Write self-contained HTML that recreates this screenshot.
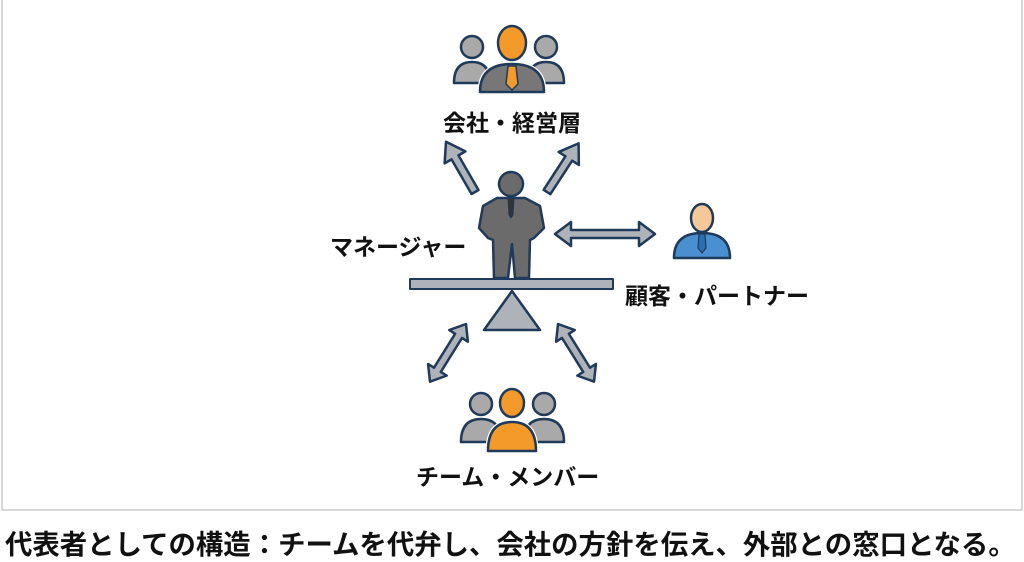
<!DOCTYPE html>
<html><head><meta charset="utf-8"><style>
html,body{margin:0;padding:0;background:#fff;}
body{width:1024px;height:559px;overflow:hidden;position:relative;font-family:"Liberation Sans","Noto Sans CJK JP",sans-serif;}
.t{position:absolute;font-weight:bold;color:#111;white-space:nowrap;}
</style></head><body>
<svg width="1024" height="559" style="position:absolute;left:0;top:0">
<rect x="2" y="-2" width="1020" height="512" fill="#fff" stroke="#d8d8d8" stroke-width="2"/>
<g stroke="#1f3a5a" stroke-width="2.5" stroke-linejoin="round">
<circle cx="472" cy="47" r="11" fill="#a9a9a9"/>
<circle cx="546" cy="47" r="11" fill="#a9a9a9"/>
<path d="M454 83 Q454 62 472 62 Q490 62 490 83 Z" fill="#a9a9a9"/>
<path d="M528 83 Q528 62 546 62 Q564 62 564 83 Z" fill="#a9a9a9"/>
<ellipse cx="512" cy="43" rx="14" ry="17" fill="#f39a2b"/>
<path d="M480 92 Q480 64 512 64 Q544 64 544 92 Z" fill="#777" stroke="#fff" stroke-width="5"/>
<path d="M480 92 Q480 64 512 64 Q544 64 544 92 Z" fill="#777"/>
<path d="M508 66 L516 66 L518 84 L512 90 L506 84 Z" fill="#f39a2b" stroke-width="1.5"/>
<polygon points="0,-4 40,-4 40,-12 58,0 40,12 40,4 0,4" fill="#aeb3ba" transform="translate(475,192) rotate(-120)"/>
<polygon points="0,-4 40,-4 40,-12 58,0 40,12 40,4 0,4" fill="#aeb3ba" transform="translate(547,192) rotate(-57)"/>
<circle cx="511" cy="184" r="12" fill="#6b6b6b"/>
<path d="M497 198 L525 198 L540 206 L544 228 L534 238 L530 240 L529 278 L515 278 L512 244 L508 278 L494 278 L493 240 L488 238 L479 228 L483 206 Z" fill="#6b6b6b"/>
<path d="M508 198 L514 198 L513 215 L511 218 L509 215 Z" fill="#333" stroke-width="1"/>
<rect x="410" y="279" width="203" height="10" fill="#aeb3ba" stroke-width="2"/>
<polygon points="512,291 540,330 484,330" fill="#aeb3ba"/>
<polygon points="555,234 571,222 571,230 639,230 639,222 655,234 639,246 639,238 571,238 571,246" fill="#aeb3ba"/>
<ellipse cx="702" cy="218" rx="11" ry="14" fill="#f5c89a"/>
<path d="M674 258 Q674 233 702 233 Q730 233 730 258 Z" fill="#4a8fcf"/>
<path d="M699 234 L705 234 L706 248 L702 253 L698 248 Z" fill="#2c6fae" stroke-width="1.2"/>
<polygon points="0,0 14,-11 14,-4 54,-4 54,-11 68,0 54,11 54,4 14,4 14,11" fill="#aeb3ba" transform="translate(466,324) rotate(122)"/>
<polygon points="0,0 14,-11 14,-4 54,-4 54,-11 68,0 54,11 54,4 14,4 14,11" fill="#aeb3ba" transform="translate(558,324) rotate(58)"/>
<circle cx="481" cy="404" r="11" fill="#a9a9a9"/>
<circle cx="544" cy="404" r="11" fill="#a9a9a9"/>
<path d="M461 442 Q461 419 481 419 Q501 419 501 442 Z" fill="#a9a9a9"/>
<path d="M524 442 Q524 419 544 419 Q564 419 564 442 Z" fill="#a9a9a9"/>
<ellipse cx="512" cy="403" rx="12" ry="14" fill="#f39a2b"/>
<path d="M488 451 Q488 422 512 422 Q536 422 536 451 Z" fill="#f39a2b" stroke="#fff" stroke-width="5"/>
<path d="M488 451 Q488 422 512 422 Q536 422 536 451 Z" fill="#f39a2b"/>
</g>
</svg>
<div class="t" style="left:443px;top:104px;font-size:23px;">会社・経営層</div>
<div class="t" style="left:330px;top:228px;font-size:23px;">マネージャー</div>
<div class="t" style="left:625px;top:277px;font-size:23px;">顧客・パートナー</div>
<div class="t" style="left:416px;top:458px;font-size:23px;">チーム・メンバー</div>
<div class="t" style="left:5px;top:522px;font-size:27.4px;">代表者としての構造：チームを代弁し、会社の方針を伝え、外部との窓口となる。</div>
</body></html>
